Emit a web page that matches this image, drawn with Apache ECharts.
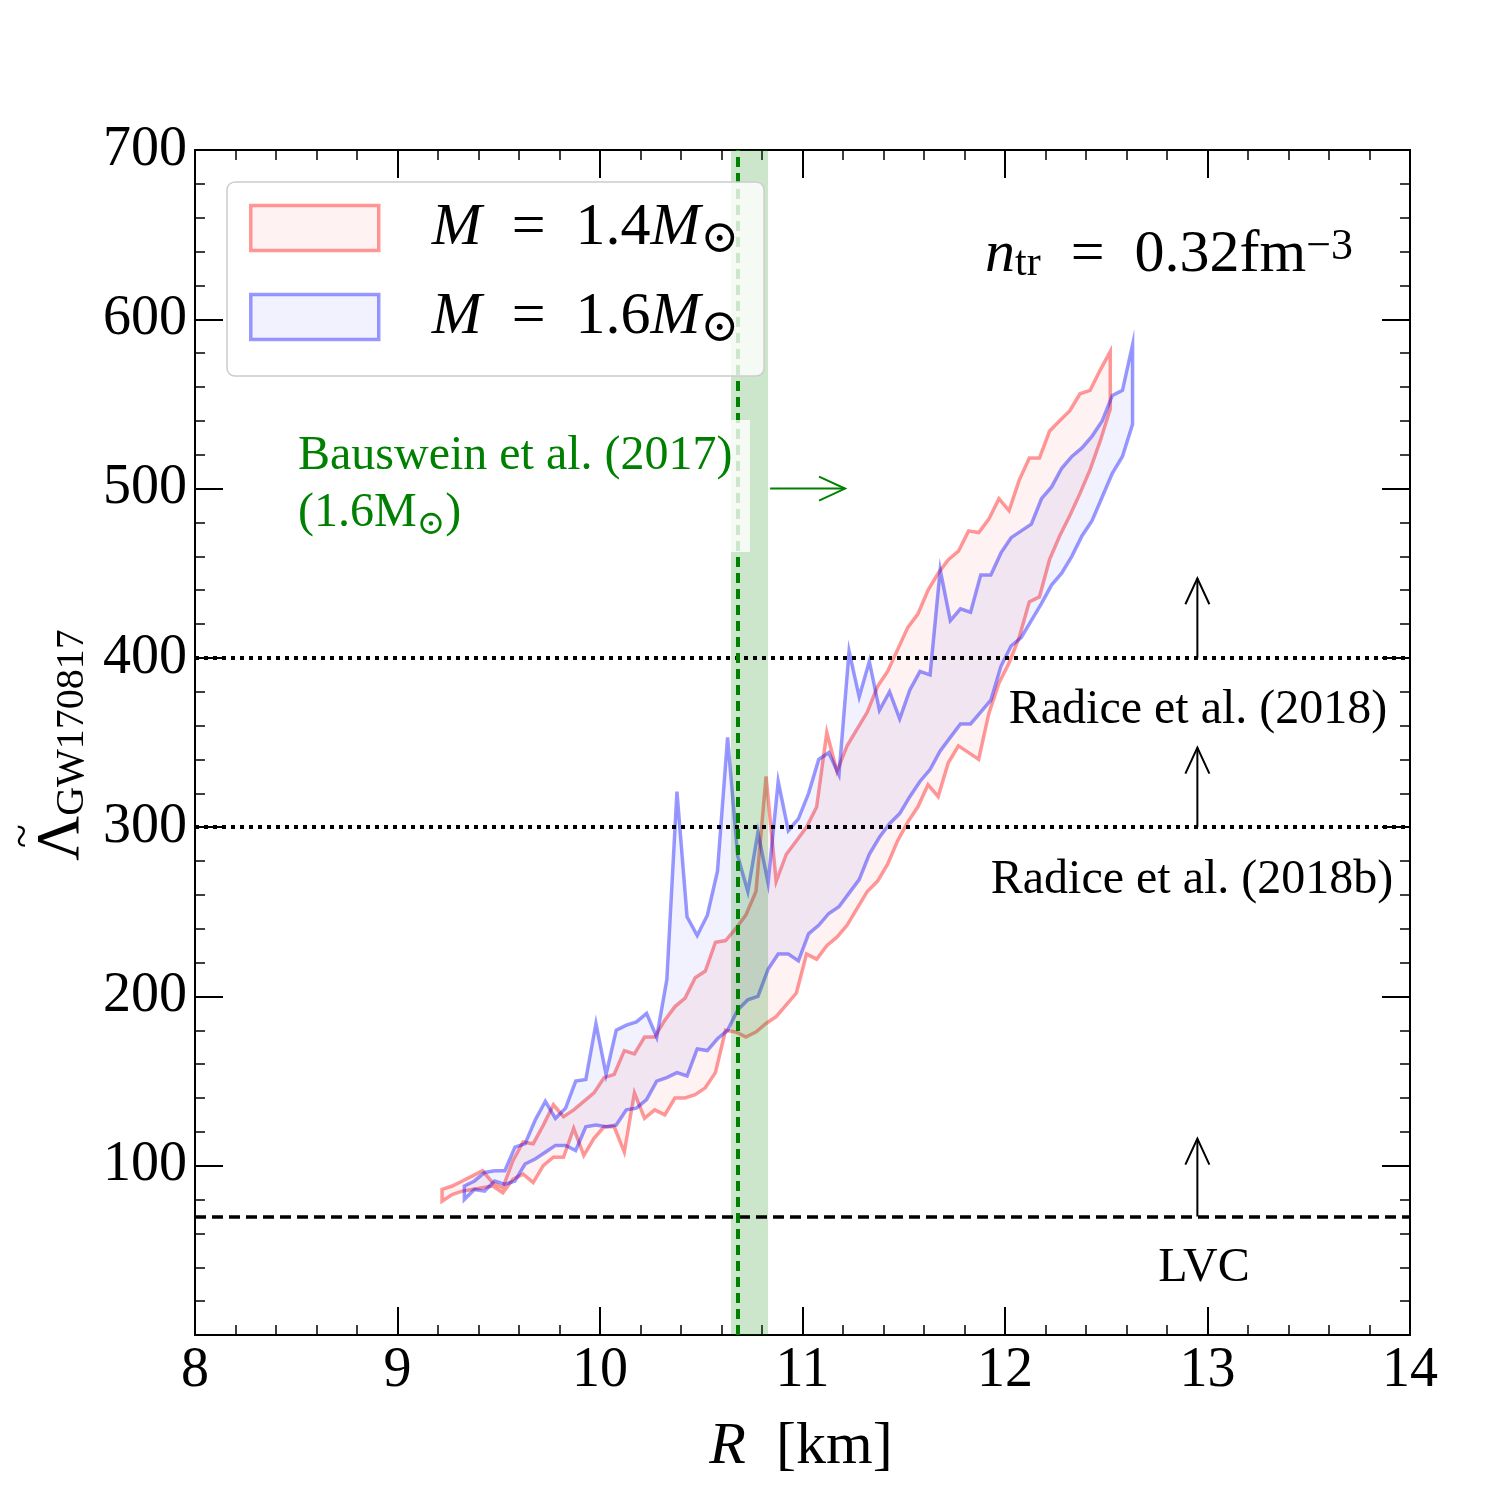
<!DOCTYPE html>
<html>
<head>
<meta charset="utf-8">
<script src="https://cdn.jsdelivr.net/npm/echarts@6/dist/echarts.min.js"></script>
<style>
  html, body { margin: 0; padding: 0; background: #fff; }
  #main { width: 1500px; height: 1500px; }
</style>
</head>
<body>
<div id="main"></div>
<script>
// radius grid and tidal deformability bands
const radius14 = [9.22, 9.27, 9.32, 9.37, 9.42, 9.47, 9.52, 9.57, 9.62, 9.67,
  9.72, 9.77, 9.82, 9.87, 9.92, 9.97, 10.02, 10.07, 10.12, 10.17,
  10.22, 10.27, 10.32, 10.37, 10.42, 10.47, 10.52, 10.57, 10.62, 10.67,
  10.72, 10.77, 10.82, 10.87, 10.92, 10.97, 11.02, 11.07, 11.12, 11.17,
  11.22, 11.27, 11.32, 11.37, 11.42, 11.47, 11.52, 11.57, 11.62, 11.67,
  11.72, 11.77, 11.82, 11.87, 11.92, 11.97, 12.02, 12.07, 12.12, 12.17,
  12.22, 12.27, 12.32, 12.37, 12.42, 12.47, 12.52];
const lambda14Upper = [86, 88, 91, 94, 97, 90, 87, 103, 114, 113,
  124, 136, 129, 133, 138, 143, 152, 154, 168, 166,
  176, 176, 186, 194, 199, 211, 215, 232, 233, 240,
  248, 262, 330, 268, 284, 292, 300, 312, 356, 333,
  348, 358, 368, 383, 392, 405, 418, 426, 440, 450,
  458, 463, 475, 474, 482, 494, 487, 505, 518, 518,
  534, 540, 546, 556, 558, 570, 581];
const lambda14Lower = [79, 83, 85, 86, 87, 88, 84, 92, 95, 90,
  100, 105, 105, 122, 106, 116, 123, 123, 108, 143,
  128, 133, 130, 140, 140, 142, 146, 155, 180, 179,
  176, 179, 184, 188, 195, 202, 225, 222, 230, 235,
  242, 252, 262, 268, 278, 292, 303, 312, 325, 318,
  338, 348, 344, 340, 367, 385, 397, 412, 433, 436,
  458, 472, 484, 497, 511, 528, 547];

const radius16 = [9.33, 9.38, 9.43, 9.48, 9.53, 9.58, 9.63, 9.68, 9.73, 9.78,
  9.83, 9.88, 9.93, 9.98, 10.03, 10.08, 10.13, 10.18, 10.23, 10.28,
  10.33, 10.38, 10.43, 10.48, 10.53, 10.58, 10.63, 10.68, 10.73, 10.78,
  10.83, 10.88, 10.93, 10.98, 11.03, 11.08, 11.13, 11.18, 11.23, 11.28,
  11.33, 11.38, 11.43, 11.48, 11.53, 11.58, 11.63, 11.68, 11.73, 11.78,
  11.83, 11.88, 11.93, 11.98, 12.03, 12.08, 12.13, 12.18, 12.23, 12.28,
  12.33, 12.38, 12.43, 12.48, 12.53, 12.58, 12.63];
const lambda16Upper = [88, 91, 96, 97, 97, 111, 113, 127, 138, 128,
  134, 150, 151, 184, 154, 180, 183, 185, 190, 176,
  210, 321, 247, 236, 248, 274, 353, 283, 262, 297,
  267, 327, 298, 305, 320, 340, 344, 331, 404, 377,
  398, 369, 380, 364, 381, 392, 390, 452, 422, 429,
  427, 449, 449, 462, 471, 475, 479, 494, 501, 512,
  519, 524, 531, 540, 555, 558, 585];
const lambda16Lower = [80, 86, 85, 91, 89, 91, 101, 104, 108, 112,
  112, 109, 123, 124, 123, 124, 133, 134, 139, 150,
  152, 155, 153, 169, 168, 175, 180, 192, 198, 200,
  216, 225, 225, 221, 237, 242, 249, 253, 261, 269,
  284, 294, 302, 308, 318, 327, 334, 345, 353, 361,
  361, 368, 375, 395, 407, 412, 422, 432, 443, 450,
  460, 472, 481, 495, 509, 519, 538];

// constraints
const radiceLevels = [400, 300];
const lvcLevel = 70;
const bausweinRadius = 10.68;
const bausweinBand = [10.647, 10.83];
const radiceArrows = [[12.95, 400, 12.95, 447], [12.95, 300, 12.95, 347], [12.95, 70, 12.95, 116]];
const bausweinArrow = [[10.84, 500, 11.21, 500]];

const xTicks = [8, 14, 1];
const yTicks = [0, 700, 100];

const FONT = '"Liberation Serif", "DejaVu Serif", serif';
const RED_FILL = 'rgba(255,0,0,0.05)', RED_EDGE = 'rgba(255,0,0,0.4)';
const BLUE_FILL = 'rgba(0,0,255,0.05)', BLUE_EDGE = 'rgba(0,0,255,0.4)';
const GREEN = '#008000';
const EQ = '\u2002=\u2002';

function bandRenderer(xs, lo, hi, fill, stroke) {
  return function (params, api) {
    const pts = [];
    xs.forEach((x, i) => pts.push(api.coord([x, hi[i]])));
    for (let i = xs.length - 1; i >= 0; i--) pts.push(api.coord([xs[i], lo[i]]));
    return {
      type: 'polygon',
      shape: { points: pts },
      style: { fill: fill, stroke: stroke, lineWidth: 3.5, lineJoin: 'miter' }
    };
  };
}

function arrowRenderer(color) {
  return function (params, api) {
    const a = api.coord([api.value(0), api.value(1)]);
    const b = api.coord([api.value(2), api.value(3)]);
    const dx = b[0] - a[0], dy = b[1] - a[1];
    const len = Math.hypot(dx, dy);
    const ux = dx / len, uy = dy / len;
    const hl = 26, hw = 12;
    const p1 = [b[0] - ux * hl - uy * hw, b[1] - uy * hl + ux * hw];
    const p2 = [b[0] - ux * hl + uy * hw, b[1] - uy * hl - ux * hw];
    return {
      type: 'group',
      children: [
        { type: 'line', shape: { x1: a[0], y1: a[1], x2: b[0], y2: b[1] }, style: { stroke: color, lineWidth: 2 } },
        { type: 'polyline', shape: { points: [p1, b, p2] }, style: { stroke: color, lineWidth: 2, fill: null } }
      ]
    };
  };
}

function axisBase(pos, range, showLabel) {
  return {
    type: 'value',
    position: pos,
    min: range[0], max: range[1], interval: range[2],
    axisLine: { show: true, onZero: false, lineStyle: { color: '#000', width: 2 } },
    axisTick: { show: true, inside: true, length: 28, lineStyle: { color: '#000', width: 2 } },
    minorTick: { show: true, splitNumber: 5, length: 10, lineStyle: { color: '#000', width: 1.5 } },
    splitLine: { show: false },
    axisLabel: {
      show: showLabel, color: '#000', fontFamily: FONT, fontSize: 56,
      formatter: v => (v === 0 && range[1] === 700 ? '' : String(v))
    }
  };
}

const xBottom = axisBase('bottom', xTicks, true);
xBottom.axisLabel.margin = 8;
const yLeft = axisBase('left', yTicks, true);
yLeft.axisLabel.margin = 8;

const legendNames = {
  m14: '{i|M}{n|' + EQ + '1.4}{i|M}{s|⊙}',
  m16: '{i|M}{n|' + EQ + '1.6}{i|M}{s|⊙}'
};

const chart = echarts.init(document.getElementById('main'));
chart.setOption({
  animation: false,
  backgroundColor: '#fff',
  grid: { left: 195, right: 90, top: 150, bottom: 165, containLabel: false },
  xAxis: [xBottom, axisBase('top', xTicks, false)],
  yAxis: [yLeft, axisBase('right', yTicks, false)],
  legend: {
    orient: 'vertical', left: 227, top: 182, z: 10,
    padding: [11, 25, 24, 22],
    itemWidth: 128, itemHeight: 45, itemGap: 19,
    backgroundColor: 'rgba(255,255,255,0.8)',
    borderColor: '#cccccc', borderWidth: 1.5, borderRadius: 8,
    selectedMode: false,
    data: [
      { name: 'm14', icon: 'rect', itemStyle: { color: RED_FILL, borderColor: RED_EDGE, borderWidth: 3.5 } },
      { name: 'm16', icon: 'rect', itemStyle: { color: BLUE_FILL, borderColor: BLUE_EDGE, borderWidth: 3.5 } }
    ],
    formatter: name => legendNames[name],
    textStyle: {
      padding: [0, 0, 0, 48],
      rich: {
        i: { fontFamily: FONT, fontSize: 60, fontStyle: 'italic', color: '#000', lineHeight: 58 },
        n: { fontFamily: FONT, fontSize: 60, color: '#000', lineHeight: 58 },
        s: { fontFamily: FONT, fontSize: 46, color: '#000', lineHeight: 10, padding: [24, 0, 0, 0] }
      }
    }
  },
  series: [
    {
      name: 'm14', type: 'custom', z: 2,
      itemStyle: { color: RED_FILL, borderColor: RED_EDGE },
      renderItem: bandRenderer(radius14, lambda14Lower, lambda14Upper, RED_FILL, RED_EDGE),
      data: [[radius14[0], lambda14Lower[0]]]
    },
    {
      name: 'm16', type: 'custom', z: 2,
      itemStyle: { color: BLUE_FILL, borderColor: BLUE_EDGE },
      renderItem: bandRenderer(radius16, lambda16Lower, lambda16Upper, BLUE_FILL, BLUE_EDGE),
      data: [[radius16[0], lambda16Lower[0]]],
      markArea: {
        z: 3, silent: true,
        itemStyle: { color: 'rgba(0,128,0,0.2)' },
        data: [[{ xAxis: bausweinBand[0] }, { xAxis: bausweinBand[1] }]]
      },
      markLine: {
        z: 5, silent: true, symbol: ['none', 'none'],
        label: { show: false },
        data: [
          ...radiceLevels.map(v => ({ yAxis: v, lineStyle: { color: '#000', width: 4, type: [4, 5] } })),
          { yAxis: lvcLevel, lineStyle: { color: '#000', width: 3.5, type: [11, 6] } },
          { xAxis: bausweinRadius, lineStyle: { color: GREEN, width: 4, type: [10, 6] } }
        ]
      }
    },
    {
      name: 'radiceArrows', type: 'custom', z: 6,
      renderItem: arrowRenderer('#000'),
      data: radiceArrows
    },
    {
      name: 'bausweinArrow', type: 'custom', z: 6,
      renderItem: arrowRenderer(GREEN),
      data: bausweinArrow
    }
  ],
  graphic: [
    { type: 'rect', z: 50, shape: { x: 290, y: 420, width: 460, height: 132 },
      style: { fill: 'rgba(255,255,255,0.8)' } },
    { type: 'text', z: 51, x: 298, y: 428,
      style: {
        text: '{g|Bauswein et al. (2017)}\n{g|(1.6M}{gs|⊙}{g|)}',
        align: 'left', verticalAlign: 'top',
        rich: {
          g: { fontFamily: FONT, fontSize: 48, fill: GREEN, lineHeight: 57 },
          gs: { fontFamily: FONT, fontSize: 34, fill: GREEN, lineHeight: 30, verticalAlign: 'bottom' }
        }
      } },
    { type: 'text', z: 51, x: 985, y: 255,
      style: {
        text: '{i|n}{s|tr}{n|' + EQ + '0.32fm}{p|\u22123}',
        align: 'left', verticalAlign: 'middle',
        rich: {
          i: { fontFamily: FONT, fontSize: 60, fontStyle: 'italic', fill: '#000', lineHeight: 60 },
          n: { fontFamily: FONT, fontSize: 60, fill: '#000', lineHeight: 60 },
          s: { fontFamily: FONT, fontSize: 42, fill: '#000', lineHeight: 26, verticalAlign: 'bottom' },
          p: { fontFamily: FONT, fontSize: 44, fill: '#000', lineHeight: 16, verticalAlign: 'top' }
        }
      } },
    { type: 'text', z: 51, x: 1198, y: 710,
      style: { text: 'Radice et al. (2018)', font: '48px ' + FONT, fill: '#000', align: 'center', verticalAlign: 'middle' } },
    { type: 'text', z: 51, x: 1192, y: 880,
      style: { text: 'Radice et al. (2018b)', font: '48px ' + FONT, fill: '#000', align: 'center', verticalAlign: 'middle' } },
    { type: 'text', z: 51, x: 1204, y: 1268,
      style: { text: 'LVC', font: '48px ' + FONT, fill: '#000', align: 'center', verticalAlign: 'middle' } },
    { type: 'text', z: 51, x: 801, y: 1447,
      style: {
        text: '{i|R}{n|  [km]}',
        align: 'center', verticalAlign: 'middle',
        rich: {
          i: { fontFamily: FONT, fontSize: 60, fontStyle: 'italic', fill: '#000' },
          n: { fontFamily: FONT, fontSize: 60, fill: '#000' }
        }
      } },
    { type: 'text', z: 51, x: 62, y: 745, rotation: Math.PI / 2,
      style: {
        text: '{L|Λ}{s|GW170817}',
        align: 'center', verticalAlign: 'middle',
        rich: {
          L: { fontFamily: FONT, fontSize: 62, fill: '#000', lineHeight: 60 },
          s: { fontFamily: FONT, fontSize: 40, fill: '#000', lineHeight: 24, verticalAlign: 'bottom' }
        }
      } },
    { type: 'text', z: 51, x: 24, y: 836, rotation: Math.PI / 2,
      style: { text: '~', font: '44px ' + FONT, fill: '#000', align: 'center', verticalAlign: 'middle' } }
  ]
});
</script>
</body>
</html>
